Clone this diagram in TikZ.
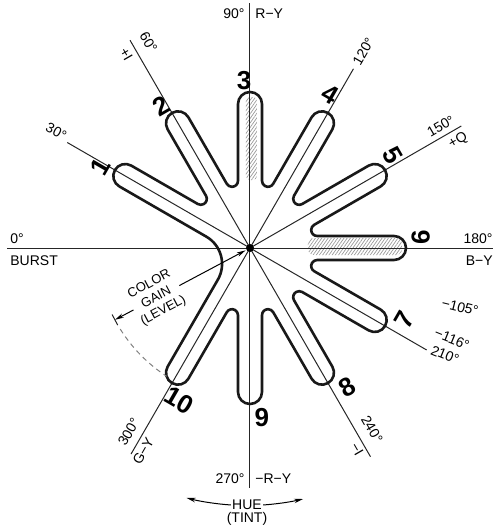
\documentclass[tikz,border=0pt]{standalone}
\usepackage{fontspec}
\setmainfont{Liberation Sans}
\usepackage{tikz}
\usetikzlibrary{calc,arrows.meta}
\usetikzlibrary{patterns.meta}

\tikzset{
  axis/.style={line width=0.5pt,black!85},
  lobe/.style={line width=1.3pt,black!90,line join=round},
  lbl/.style={font=\fontsize{7}{8}\selectfont,inner sep=0.5pt},
  num/.style={font=\fontsize{13}{13}\selectfont\bfseries,inner sep=0pt},
  hatch/.style={pattern={Lines[angle=55,distance=1.3pt,line width=0.35pt]},pattern color=gray!80},
  dim/.style={line width=0.5pt,-{Stealth[length=4.5pt,width=2.2pt]}},
}

\begin{document}
\begin{tikzpicture}[scale=0.017573]
  \useasboundingbox (-250,-282) rectangle (250,248);
  % half width, tip centre, valley fillet, left fillet
  \def\hw{12}\def\tipL{144}\def\vr{6}\def\vt{67.18}\def\fr{31.5}\def\ft{43.5}
  \coordinate (O) at (0,0);

  % hatched strips in lobes 3 and 6
  \fill[hatch,rounded corners=2pt] (-4,68) rectangle (7,151);
  \fill[hatch,rounded corners=3pt] (58,-7) rectangle (152,10);

  % phase lines
  \foreach \n/\a/\l in {d0/180/243,d30/150/211,d60/120/240,d90/90/245,d120/60/207,
      d150/30/244,d180/0/243,d210/-30/204,d240/-60/241,d270/-90/240,d300/240/238}
    \coordinate (\n) at (\a:\l);
  \foreach \n in {d0,d30,d60,d90,d120,d150,d180,d210,d240,d270,d300}
    \draw[axis] (O) -- (\n);

  % the ten lobes as one outline
  \draw[lobe] ($(240:\ft)+(150:\hw)$)
    \foreach \a in {240,270,...,480} {
      -- ($(\a:\tipL)+(\a-90:\hw)$) arc[start angle=\a-90,end angle=\a+90,radius=\hw]
      -- ($(\a:\vt)+(\a+90:\hw)$) arc[start angle=\a+270,end angle=\a+120,radius=\vr]
    }
    -- ($(510:\tipL)+(420:\hw)$) arc[start angle=420,end angle=600,radius=\hw]
    -- ($(510:\ft)+(600:\hw)$) arc[start angle=60,end angle=-30,radius=\fr] -- cycle;
  \fill (O) circle (4);

  % lobe numbers
  \foreach \t/\a/\r/\rot in {1/151.6/170/60,2/122/168/30,3/92/168/0,4/62.5/173/-30,
      5/33/170/-60,6/3.7/171/90,7/-25/170/60,8/-55/170/30,9/-86/170/0,10/245/168/-30}
    \node[num,rotate=\rot] (n\t) at (\a:\r) {\t};

  % axis labels
  \node[lbl,anchor=south west] (l0) at (-241,3) {0°};
  \node[lbl,anchor=north west] (burst) at (-241,-6) {BURST};
  \node[lbl,anchor=south east] (l180) at (244,3) {180°};
  \node[lbl,anchor=north east] (by) at (244,-6) {B−Y};
  \node[lbl,anchor=base east] (l90) at (-4,230) {90°};
  \node[lbl,anchor=base west] (ry) at (4,230) {R−Y};
  \node[lbl,anchor=base east] (l270) at (-4,-235) {270°};
  \node[lbl,anchor=base west] (mry) at (4,-235) {−R−Y};

  \node[lbl,rotate=-28] (l30) at ($(150:226)+(60:4)$) {30°};
  \node[lbl,rotate=-60] (l60) at ($(120:229)+(30:15)$) {60°};
  \node[lbl,rotate=-60] (pi) at ($(120:230)+(210:10)$) {+I};
  \node[lbl,rotate=60] (l120) at (60:227) {120°};
  \node[lbl,rotate=30] (l150) at ($(30:226)+(120:10)$) {150°};
  \node[lbl,rotate=30] (pq) at ($(30:234)+(300:11)$) {+Q};
  \node[lbl,rotate=-14] (l105) at (210,-59) {−105°};
  \node[lbl,rotate=-22] (l116) at (202,-91) {−116°};
  \node[lbl,rotate=-22] (l210) at (195,-107) {210°};
  \node[lbl,rotate=-60] (l240) at ($(-60:218)+(30:15)$) {240°};
  \node[lbl,rotate=-60] (mi) at ($(-60:228)+(210:8)$) {−I};
  \node[lbl,rotate=60] (l300) at ($(240:220)+(150:13)$) {300°};
  \node[lbl,rotate=60] (gy) at ($(240:229)+(330:9)$) {G−Y};

  % colour gain
  \node[lbl,rotate=28,align=center,font=\fontsize{6.5}{7.5}\selectfont] (gain) at (208:106)
    {COLOR\\GAIN\\(LEVEL)};
  \coordinate (gb) at (208:153);
  \draw[dim,shorten >=2.5pt] (gain.east) -- (O);
  \draw[dim] (gain.west) -- (gb);
  \draw[axis] (gb) ++(118:6) -- ++(298:12);
  \draw[axis,gray,dash pattern=on 2.5pt off 2pt] (212:153) arc[start angle=212,end angle=237,radius=153];

  % hue
  \node[lbl] (hue) at (-3,-257) {HUE};
  \node[lbl] (tint) at (-3,-271) {(TINT)};
  \draw[dim] (hue.west) arc[start angle=-94,end angle=-104,radius=257];
  \draw[dim] (hue.east) arc[start angle=-86,end angle=-77,radius=257];
\end{tikzpicture}
\end{document}
